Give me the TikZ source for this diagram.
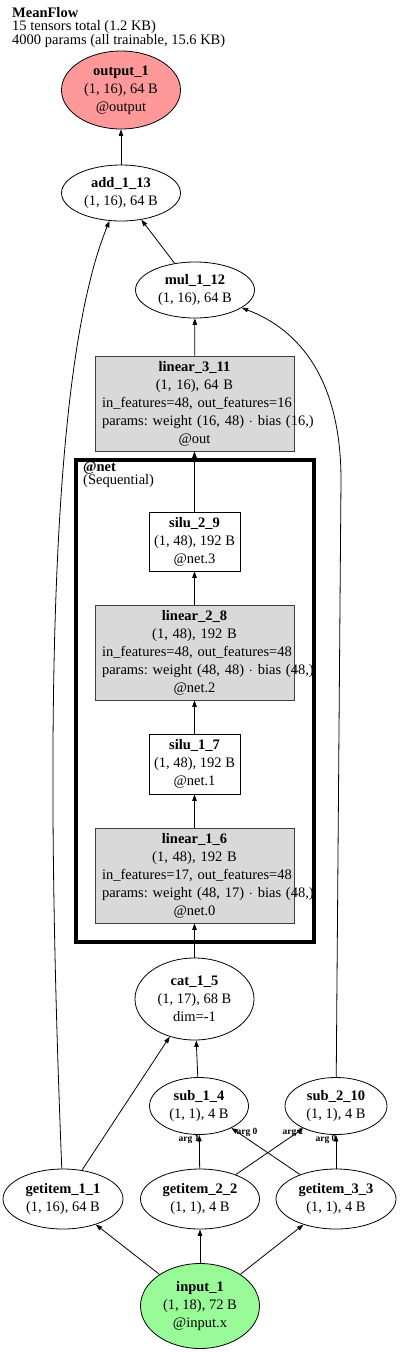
\documentclass[tikz,border=0pt]{standalone}
\usepackage{fontspec}
\setmainfont{Liberation Serif}
\frenchspacing
\usetikzlibrary{arrows.meta,shapes.geometric}
\definecolor{NetRed}{HTML}{FF9999}
\definecolor{NetGreen}{HTML}{98FB98}
\definecolor{NetGray}{HTML}{D9D9D9}
\definecolor{NetDark}{HTML}{404040}
\tikzset{
  tensornode/.style={draw=black,ellipse,inner sep=0pt,align=center,fill=white,line width=0.8pt,font=\fontsize{14.5}{18}\selectfont},
  modbox/.style={draw=NetDark,fill=NetGray,rectangle,text width=185pt,inner xsep=7pt,inner ysep=0pt,minimum height=95pt,align=center,line width=0.8pt,font=\fontsize{14.5}{18}\selectfont},
  actbox/.style={draw=black,fill=white,rectangle,inner sep=0pt,minimum width=91pt,minimum height=59pt,align=center,line width=0.8pt,font=\fontsize{14.5}{18}\selectfont},
  flowarrow/.style={-{Triangle[length=6.5pt,width=4.5pt]},line width=0.8pt,draw=black},
  arglabel/.style={inner sep=0pt,font=\bfseries\fontsize{9.5}{9.5}\selectfont},
  netframe/.style={line width=4pt,draw=black}
}

\begin{document}
\begin{tikzpicture}[x=1pt,y=-1pt]
\useasboundingbox (0,0) rectangle (400,1353);
% header
\node[anchor=north west,align=left,inner sep=0pt,font=\fontsize{14.5}{13}\selectfont] (title) at (12,7)
  {\textbf{MeanFlow}\\15 tensors total (1.2 KB)\\4000 params (all trainable, 15.6 KB)};
% tensors
\node[tensornode,fill=NetRed,minimum width=119pt,minimum height=78pt] (output1) at (121,90) {\textbf{output\_1}\\(1, 16), 64 B\\@output};
\node[tensornode,minimum width=119pt,minimum height=56pt] (add113) at (121,193) {\textbf{add\_1\_13}\\(1, 16), 64 B};
\node[tensornode,minimum width=119pt,minimum height=56pt] (mul112) at (195,290) {\textbf{mul\_1\_12}\\(1, 16), 64 B};
\node[modbox] (linear311) at (194.5,403.5) {\textbf{linear\_3\_11}\\(1, 16), 64 B\\\mbox{in\_features=48, out\_features=16}\\\mbox{params: weight (16, 48) $\cdot$ bias (16,)}\\@out};
% @net cluster
\node[actbox] (silu29) at (194.5,541.5) {\textbf{silu\_2\_9}\\(1, 48), 192 B\\@net.3};
\node[modbox] (linear28) at (194.5,652.5) {\textbf{linear\_2\_8}\\(1, 48), 192 B\\\mbox{in\_features=48, out\_features=48}\\\mbox{params: weight (48, 48) $\cdot$ bias (48,)}\\@net.2};
\node[actbox,minimum height=60pt] (silu17) at (194.5,764) {\textbf{silu\_1\_7}\\(1, 48), 192 B\\@net.1};
\node[modbox] (linear16) at (194.5,875.5) {\textbf{linear\_1\_6}\\(1, 48), 192 B\\\mbox{in\_features=17, out\_features=48}\\\mbox{params: weight (48, 17) $\cdot$ bias (48,)}\\@net.0};
\draw[netframe] (76,460) rectangle (314,942);
\node[anchor=north west,align=left,inner sep=0pt,font=\fontsize{14.5}{13}\selectfont] (netlabel) at (83,462) {\textbf{@net}\\(Sequential)};
% inputs side
\node[tensornode,minimum width=119pt,minimum height=82pt] (cat15) at (194.5,999) {\textbf{cat\_1\_5}\\(1, 17), 68 B\\dim=-1};
\node[tensornode,minimum width=99pt,minimum height=57pt] (sub14) at (199,1106) {\textbf{sub\_1\_4}\\(1, 1), 4 B};
\node[tensornode,minimum width=102pt,minimum height=57pt] (sub210) at (336,1106) {\textbf{sub\_2\_10}\\(1, 1), 4 B};
\node[tensornode,minimum width=120pt,minimum height=60pt] (getitem11) at (63,1199) {\textbf{getitem\_1\_1}\\(1, 16), 64 B};
\node[tensornode,minimum width=119pt,minimum height=60pt] (getitem22) at (200,1199) {\textbf{getitem\_2\_2}\\(1, 1), 4 B};
\node[tensornode,minimum width=120pt,minimum height=60pt] (getitem33) at (336,1199) {\textbf{getitem\_3\_3}\\(1, 1), 4 B};
\node[tensornode,fill=NetGreen,minimum width=119pt,minimum height=85pt] (input1) at (200,1306) {\textbf{input\_1}\\(1, 18), 72 B\\@input.x};
% edges
\draw[flowarrow] (input1) -- (getitem11);
\draw[flowarrow] (input1) -- (getitem22);
\draw[flowarrow] (input1) -- (getitem33);
\draw[flowarrow] (getitem22) -- (sub14);
\draw[flowarrow] (getitem33) -- (sub14);
\draw[flowarrow] (getitem22) -- (sub210);
\draw[flowarrow] (getitem33) -- (sub210);
\node[arglabel] (arg14b) at (189,1139) {arg 1};
\node[arglabel] (arg14a) at (247,1132) {arg 0};
\node[arglabel] (arg210b) at (293,1132) {arg 1};
\node[arglabel] (arg210a) at (326,1139) {arg 0};
\draw[flowarrow] (getitem11) -- (cat15);
\draw[flowarrow] (sub14) -- (cat15);
\draw[flowarrow] (cat15) -- (linear16);
\draw[flowarrow] (linear16) -- (silu17);
\draw[flowarrow] (silu17) -- (linear28);
\draw[flowarrow] (linear28) -- (silu29);
\draw[flowarrow] (silu29) -- (linear311);
\draw[flowarrow] (linear311) -- (mul112);
\draw[flowarrow] (mul112) -- (add113);
\draw[flowarrow] (add113) -- (output1);
\coordinate (bendR) at (341,480);
\draw[flowarrow] (sub210) -- (bendR) .. controls (341,380) and (300,330) .. (mul112);
\draw[flowarrow] (getitem11) .. controls (47,800) and (44,380) .. (add113);
\end{tikzpicture}
\end{document}
